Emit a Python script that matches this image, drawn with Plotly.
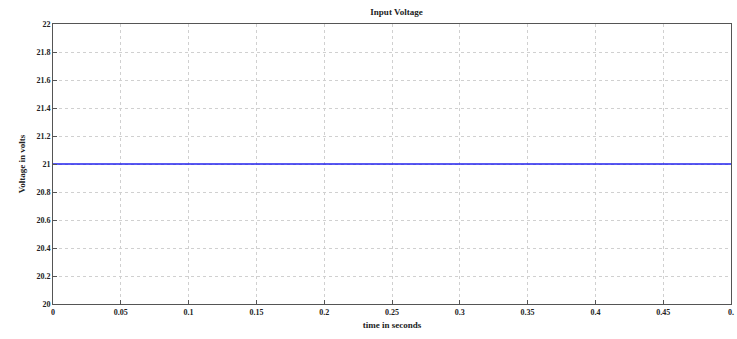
import plotly.graph_objects as go

time_s = [0.0, 0.5]
voltage_v = [21.0, 21.0]
x_ticks = [0, 0.05, 0.1, 0.15, 0.2, 0.25, 0.3, 0.35, 0.4, 0.45, 0.5]
x_tick_labels = ["0", "0.05", "0.1", "0.15", "0.2", "0.25", "0.3", "0.35", "0.4", "0.45", "0."]
y_ticks = [20, 20.2, 20.4, 20.6, 20.8, 21, 21.2, 21.4, 21.6, 21.8, 22]
y_tick_labels = ["20", "20.2", "20.4", "20.6", "20.8", "21", "21.2", "21.4", "21.6", "21.8", "22"]

font = dict(family="Liberation Serif", size=8, color="#222")

fig = go.Figure()
fig.add_trace(go.Scatter(x=time_s, y=voltage_v, mode="lines",
                         line=dict(color="#2222ee", width=1.6), showlegend=False))

axis_common = dict(showgrid=True, gridcolor="#d0d0d0", griddash="dot", gridwidth=1,
                   showline=True, linecolor="#555", linewidth=1, mirror=True,
                   ticks="inside", ticklen=4, tickcolor="#555", zeroline=False,
                   tickfont=dict(family="Liberation Serif", size=8, color="#222"))

fig.update_xaxes(range=[0, 0.5], tickvals=x_ticks,
                 ticktext=["<b>%s</b>" % t for t in x_tick_labels],
                 title=dict(text="<b>time in seconds</b>", font=dict(family="Liberation Serif", size=9, color="#222"), standoff=6),
                 **axis_common)
fig.update_yaxes(range=[20, 22], tickvals=y_ticks,
                 ticktext=["<b>%s</b>" % t for t in y_tick_labels],
                 title=dict(text="<b>Voltage in volts</b>", font=dict(family="Liberation Serif", size=9, color="#222"), standoff=9),
                 **axis_common)

fig.update_layout(
    width=737, height=339,
    margin=dict(l=53, r=3, t=24, b=35),
    paper_bgcolor="white", plot_bgcolor="white",
    font=font,
    title=dict(text="<b>Input Voltage</b>", x=0.538, xanchor="center", y=0.965, yanchor="middle",
               font=dict(family="Liberation Serif", size=9, color="#222")),
)

fig.write_html("out.html")
